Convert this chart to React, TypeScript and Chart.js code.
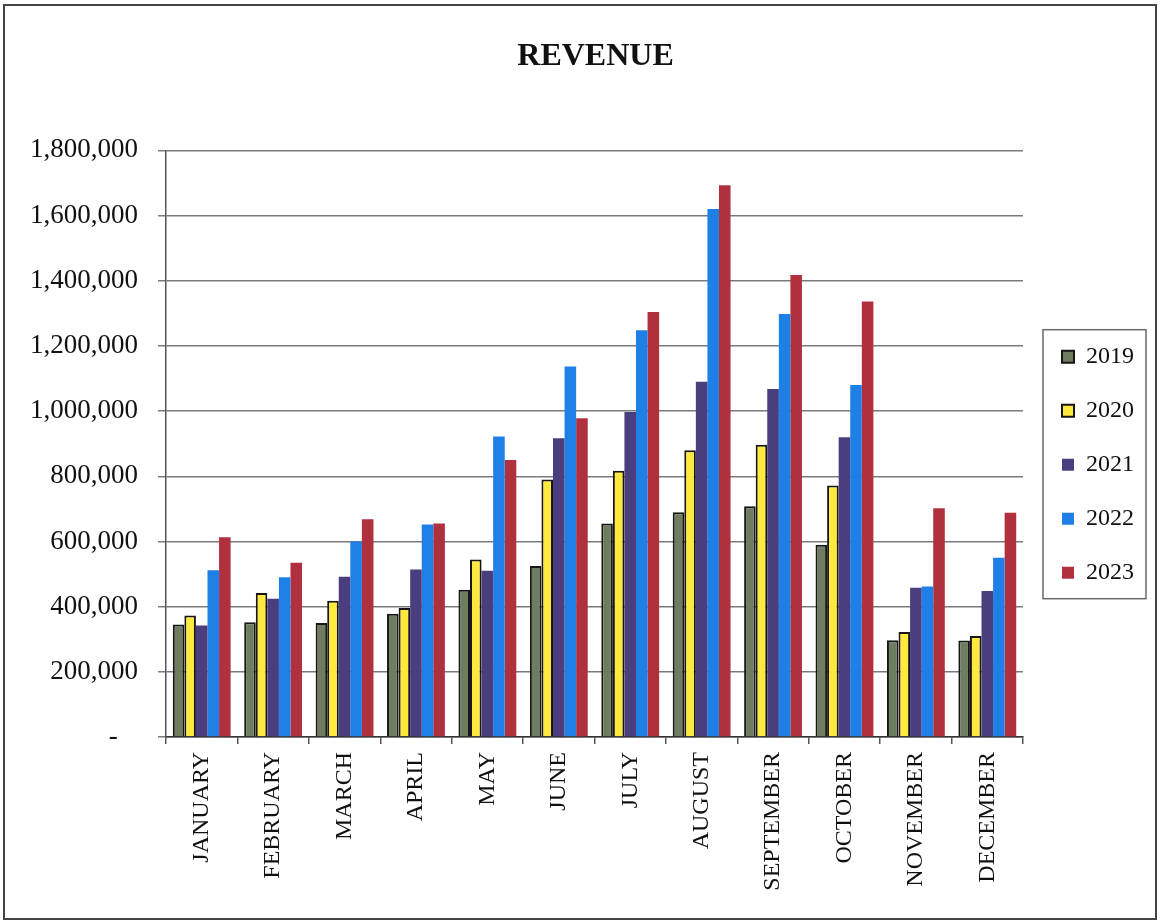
import React, { useEffect, useRef } from "react";
import { Chart, registerables } from "chart.js";

Chart.register(...registerables);

const months = ["JANUARY", "FEBRUARY", "MARCH", "APRIL", "MAY", "JUNE", "JULY", "AUGUST", "SEPTEMBER", "OCTOBER", "NOVEMBER", "DECEMBER"];
const rev2019 = [345000, 352000, 350000, 378000, 452000, 525000, 655000, 690000, 708000, 590000, 297000, 296000];
const rev2020 = [373000, 442000, 418000, 396000, 545000, 790000, 817000, 880000, 897000, 772000, 322000, 310000];
const rev2021 = [342000, 424000, 492000, 514000, 510000, 917000, 997000, 1090000, 1068000, 920000, 458000, 448000];
const rev2022 = [512000, 490000, 600000, 652000, 922000, 1137000, 1248000, 1620000, 1298000, 1080000, 462000, 550000];
const rev2023 = [613000, 535000, 668000, 655000, 850000, 978000, 1304000, 1693000, 1418000, 1336000, 702000, 688000];
const yearLabels = ["2019", "2020", "2021", "2022", "2023"];
const yTicksMax = 1800000;
const yStep = 200000;

const SERIF = "'Liberation Serif', 'Times New Roman', serif";

const legendPlugin = {
  id: "legendFrame",
  afterLayout(chart: any) {
    const lg = chart.legend;
    if (lg) {
      lg.left += 9;
      lg.right += 9;
      lg.top += 21;
      lg.bottom += 21;
    }
    const tb = chart.titleBlock;
    if (tb) {
      tb.left += 28;
      tb.right += 28;
    }
  },
  afterDraw(chart: any) {
    const lg = chart.legend;
    if (!lg || !lg.legendHitBoxes || !lg.legendHitBoxes.length) return;
    const hb = lg.legendHitBoxes;
    let minL = Infinity, maxR = -Infinity;
    for (const b of hb) {
      minL = Math.min(minL, b.left);
      maxR = Math.max(maxR, b.left + b.width);
    }
    const top = hb[0].top - 15;
    const last = hb[hb.length - 1];
    const bottom = last.top + last.height + 14;
    const ctx = chart.ctx;
    ctx.save();
    ctx.strokeStyle = "#6a6a6a";
    ctx.lineWidth = 1.5;
    ctx.strokeRect(minL - 19, top, maxR - minL + 31, bottom - top);
    ctx.restore();
  },
};

export default function App() {
  const ref = useRef<HTMLCanvasElement | null>(null);

  useEffect(() => {
    if (!ref.current) return;
    const chart = new Chart(ref.current, {
      type: "bar",
      data: {
        labels: months,
        datasets: [
          { label: yearLabels[0], data: rev2019, backgroundColor: "#6e7c5f", borderColor: "#161616", borderWidth: 2 },
          { label: yearLabels[1], data: rev2020, backgroundColor: "#ffe93c", borderColor: "#161616", borderWidth: 2 },
          { label: yearLabels[2], data: rev2021, backgroundColor: "#4a3e7e", borderColor: "#3a3070", borderWidth: 0 },
          { label: yearLabels[3], data: rev2022, backgroundColor: "#1e80e6", borderColor: "#1e80e6", borderWidth: 0 },
          { label: yearLabels[4], data: rev2023, backgroundColor: "#b0303e", borderColor: "#b0303e", borderWidth: 0 },
        ],
      },
      options: {
        responsive: false,
        animation: false,
        categoryPercentage: 0.81,
        barPercentage: 1.0,
        layout: { padding: { left: 0, right: 25, top: 0, bottom: 0 } },
        plugins: {
          title: {
            display: true,
            text: "REVENUE",
            color: "#111",
            font: { family: SERIF, size: 32, weight: "bold" },
            padding: { top: 38, bottom: 74 },
          },
          legend: {
            position: "right",
            align: "center",
            fullSize: false,
            labels: {
              color: "#111",
              font: { family: SERIF, size: 24 },
              boxWidth: 12,
              boxHeight: 12,
              padding: 30,
            },
          },
          tooltip: { enabled: false },
        },
        scales: {
          x: {
            afterFit: (s: any) => { s.height = 185; },
            grid: { display: true, drawOnChartArea: false, drawTicks: true, tickLength: 7, color: "#555", lineWidth: 1.5, offset: true },
            border: { display: true, color: "#333", width: 1.5 },
            ticks: {
              autoSkip: false,
              minRotation: 90,
              maxRotation: 90,
              padding: 8,
              color: "#111",
              font: { family: SERIF, size: 24 },
            },
          },
          y: {
            min: 0,
            max: yTicksMax,
            afterFit: (s: any) => { s.width = 166; },
            grid: { color: "#7a7a7a", lineWidth: 1.5, drawTicks: true, tickLength: 8 },
            border: { display: true, color: "#555", width: 1.5 },
            ticks: {
              stepSize: yStep,
              padding: 20,
              color: "#111",
              font: { family: SERIF, size: 27 },
              callback: (v: any) => (Number(v) === 0 ? "-   " : Number(v).toLocaleString("en-US")),
            },
          },
        },
      },
      plugins: [legendPlugin],
    });
    return () => chart.destroy();
  }, []);

  return (
    <div style={{ position: "absolute", left: 0, top: 0, width: 1160, height: 922, background: "#fff" }}>
      <canvas ref={ref} width={1160} height={922} style={{ position: "absolute", left: 0, top: 0 }} />
      <div style={{ position: "absolute", left: 3, top: 4, width: 1150, height: 912, border: "2px solid #444", pointerEvents: "none" }} />
    </div>
  );
}
